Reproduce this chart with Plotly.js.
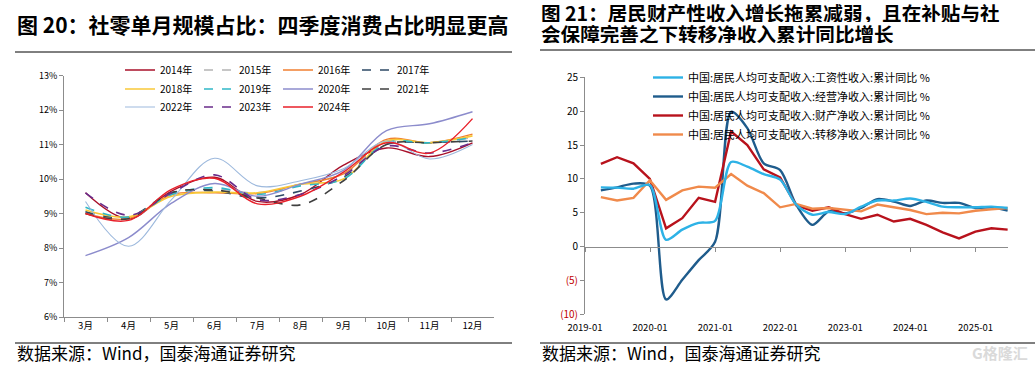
<!DOCTYPE html>
<html><head><meta charset="utf-8">
<script src="https://cdn.plot.ly/plotly-3.0.1.min.js"></script>
<style>html,body{margin:0;padding:0;background:#fff}#chart{width:1035px;height:365px}</style>
</head><body><div id="chart"></div>
<script>
// ---------- Left chart data: monthly share of annual retail sales (%) ----------
const months = ['3月','4月','5月','6月','7月','8月','9月','10月','11月','12月'];
const yearNames = ['2014年','2015年','2016年','2017年','2018年','2019年','2020年','2021年','2022年','2023年','2024年'];
const share2014 = [9.60, 8.85, 9.65, 10.05, 9.35, 9.55, 10.40, 10.90, 10.65, 11.05];
const share2015 = [9.05, 8.85, 9.55, 9.70, 9.60, 9.85, 10.15, 11.10, 11.05, 11.20];
const share2016 = [9.00, 8.85, 9.55, 9.60, 9.58, 9.85, 10.15, 11.15, 11.05, 11.30];
const share2017 = [9.05, 8.90, 9.60, 9.65, 9.45, 9.65, 10.05, 11.00, 11.05, 11.10];
const share2018 = [9.10, 8.90, 9.50, 9.62, 9.60, 9.85, 10.00, 11.10, 11.05, 11.25];
const share2019 = [9.18, 8.90, 9.55, 9.75, 9.55, 9.80, 10.00, 11.05, 11.05, 11.20];
const share2020 = [7.78, 8.30, 9.30, 9.87, 9.50, 9.85, 10.25, 11.40, 11.60, 11.95];
const share2021 = [9.00, 8.85, 9.60, 9.68, 9.45, 9.25, 9.95, 11.00, 11.05, 11.10];
const share2022 = [9.35, 8.05, 9.40, 10.60, 9.80, 9.95, 10.30, 11.10, 10.58, 11.00];
const share2023 = [9.60, 8.95, 9.60, 10.12, 9.40, 9.55, 10.10, 10.95, 10.75, 11.05];
const share2024 = [9.00, 8.80, 9.70, 10.02, 9.28, 9.50, 10.20, 11.05, 10.75, 11.75];
const leftYTicks = [6, 7, 8, 9, 10, 11, 12, 13];
const leftYTickText = ['6%', '7%', '8%', '9%', '10%', '11%', '12%', '13%'];

// ---------- Right chart data: per-capita disposable income, cumulative YoY (%) ----------
const quarters = ['2019-03-31','2019-06-30','2019-09-30','2019-12-31',
  '2020-03-31','2020-06-30','2020-09-30','2020-12-31',
  '2021-03-31','2021-06-30','2021-09-30','2021-12-31',
  '2022-03-31','2022-06-30','2022-09-30','2022-12-31',
  '2023-03-31','2023-06-30','2023-09-30','2023-12-31',
  '2024-03-31','2024-06-30','2024-09-30','2024-12-31',
  '2025-03-31','2025-06-30'];
const wage     = [8.75, 8.7, 8.55, 9.1, 1.0, 2.5, 3.5, 3.8, 12.5, 11.8, 10.7, 9.9, 6.2, 4.7, 5.1, 4.8, 5.9, 6.8, 6.8, 7.1, 6.6, 5.9, 5.8, 5.8, 5.9, 5.7];
const business = [8.3, 8.75, 9.3, 9.0, -7.8, -4.9, -2.0, 0.7, 19.9, 17.5, 12.3, 11.3, 6.2, 3.2, 5.2, 4.9, 5.7, 7.0, 6.65, 6.0, 6.8, 6.45, 6.45, 5.7, 5.8, 5.3];
const property = [12.2, 13.2, 12.3, 10.0, 2.7, 4.2, 7.2, 6.6, 17.0, 15.0, 11.4, 10.2, 6.1, 5.3, 5.8, 4.8, 4.1, 4.7, 3.7, 4.1, 3.2, 2.1, 1.2, 2.2, 2.7, 2.5];
const transfer = [7.3, 6.8, 7.2, 9.8, 6.9, 8.3, 8.85, 8.7, 10.7, 9.0, 7.9, 5.8, 6.3, 5.6, 5.7, 5.5, 5.2, 6.2, 5.8, 5.4, 4.8, 5.0, 4.9, 5.3, 5.5, 5.7];
const rightNames = ['中国:居民人均可支配收入:工资性收入:累计同比 %',
  '中国:居民人均可支配收入:经营净收入:累计同比 %',
  '中国:居民人均可支配收入:财产净收入:累计同比 %',
  '中国:居民人均可支配收入:转移净收入:累计同比 %'];
const rightYTicks = [-10, -5, 0, 5, 10, 15, 20, 25];
const rightYTickText = ['(10)', '(5)', '0', '5', '10', '15', '20', '25'];

// ---------- build ----------
const W = 1035, H = 365;
const px = v => v / W;
const py = v => 1 - v / H;
const FONT = 'Noto Sans CJK SC, Noto Sans, sans-serif';

const leftSeries = [share2014, share2015, share2016, share2017, share2018, share2019, share2020, share2021, share2022, share2023, share2024];
const leftStyle = [
  {c:'#A8102A', d:'solid', w:1.4},
  {c:'#B4B4B4', d:'dash',  w:1.6},
  {c:'#F07F30', d:'solid', w:1.4},
  {c:'#2E4A66', d:'dash',  w:1.6},
  {c:'#F8C838', d:'solid', w:1.6},
  {c:'#30B8C8', d:'dash',  w:1.6},
  {c:'#8C8CCC', d:'solid', w:1.4},
  {c:'#404040', d:'dash',  w:1.6},
  {c:'#9DB9DD', d:'solid', w:1.1},
  {c:'#6A2C8A', d:'dash',  w:1.6},
  {c:'#E8202A', d:'solid', w:1.4}
];
const legendIds = ['legend','legend','legend','legend','legend2','legend2','legend2','legend2','legend3','legend3','legend3'];

const traces = [];
leftSeries.forEach((s, i) => {
  traces.push({
    type:'scatter', mode:'lines', x: months, y: s, name: yearNames[i],
    xaxis:'x', yaxis:'y', legend: legendIds[i],
    line:{color: leftStyle[i].c, dash: leftStyle[i].d, width: leftStyle[i].w, shape:'spline', smoothing:1},
    hoverinfo:'skip'
  });
});
const rightSeries = [wage, business, property, transfer];
const rightStyle = [
  {c:'#2DB2E6', shape:'spline'},
  {c:'#1F5C8C', shape:'spline'},
  {c:'#B8121C', shape:'linear'},
  {c:'#F08A4B', shape:'linear'}
];
rightSeries.forEach((s, i) => {
  traces.push({
    type:'scatter', mode:'lines', x: quarters, y: s, name: rightNames[i],
    xaxis: i === 0 ? 'x3' : 'x2', yaxis:'y2', legend:'legend4',
    line:{color: rightStyle[i].c, width:2.4, shape: rightStyle[i].shape, smoothing:0.8},
    hoverinfo:'skip'
  });
});

const axisGray = '#8C8C8C';
const xRangeR = ['2019-01-01','2025-07-02'];
const legendCommon = {orientation:'h', xanchor:'left', yanchor:'middle', bgcolor:'rgba(0,0,0,0)',
  font:{family:FONT, size:10, color:'#000'}, entrywidth:34, entrywidthmode:'pixels', itemwidth:30, tracegroupgap:0};

const layout = {
  width:W, height:H, autosize:false, margin:{l:0,r:0,t:0,b:0},
  paper_bgcolor:'#fff', plot_bgcolor:'#fff', showlegend:true,
  font:{family:FONT, size:9, color:'#000'},
  xaxis:{domain:[px(64), px(494)], anchor:'y', type:'category', range:[-0.5, 9.5],
    tickson:'boundaries', ticks:'outside', ticklen:4, tickcolor:axisGray, showline:true, linecolor:axisGray, linewidth:1,
    showgrid:false, zeroline:false, tickfont:{family:FONT, size:9.5}, fixedrange:true},
  yaxis:{domain:[py(317), py(75.5)], anchor:'x', range:[6, 13], tickmode:'array', tickvals:leftYTicks, ticktext:leftYTickText,
    ticks:'outside', ticklen:4, tickcolor:axisGray, showline:true, linecolor:axisGray, linewidth:1,
    showgrid:false, zeroline:false, tickfont:{family:FONT, size:9}, fixedrange:true},
  xaxis2:{domain:[px(585), px(1008)], anchor:'y2', type:'date', range:xRangeR, tick0:'2019-01-01', dtick:'M12',
    tickformat:'%Y-%m', ticks:'', showline:false, showgrid:false, zeroline:false, tickfont:{family:FONT, size:9.5},
    ticklabelstandoff:6, fixedrange:true},
  xaxis3:{overlaying:'x2', anchor:'free', position:py(246.7), type:'date', range:xRangeR, tick0:'2019-01-01', dtick:'M12',
    ticks:'outside', ticklen:4, tickcolor:axisGray, showline:true, linecolor:axisGray, linewidth:1.2,
    showticklabels:false, showgrid:false, zeroline:false, fixedrange:true},
  yaxis2:{domain:[py(314.3), py(77.3)], anchor:'x2', range:[-10, 25], tickmode:'array', tickvals:rightYTicks,
    ticktext: rightYTickText.map((t, i) => rightYTicks[i] < 0 ? '<span style="color:#C00000">' + t + '</span>' : t),
    ticks:'outside', ticklen:4, tickcolor:axisGray, showline:true, linecolor:axisGray, linewidth:1,
    showgrid:false, zeroline:false, tickfont:{family:FONT, size:10}, fixedrange:true},
  legend: Object.assign({}, legendCommon, {x:px(120), y:py(70)}),
  legend2: Object.assign({}, legendCommon, {x:px(120), y:py(89)}),
  legend3: Object.assign({}, legendCommon, {x:px(120), y:py(107)}),
  legend4: {orientation:'v', xanchor:'left', yanchor:'top', x:px(648), y:py(63), bgcolor:'rgba(0,0,0,0)',
    font:{family:FONT, size:11, color:'#000'}, itemwidth:30, tracegroupgap:0},
  shapes:[
    {type:'line', xref:'paper', yref:'paper', x0:px(15), x1:px(512), y0:py(52), y1:py(52), line:{color:'#000', width:1}},
    {type:'line', xref:'paper', yref:'paper', x0:px(540), x1:px(1035), y0:py(50), y1:py(50), line:{color:'#000', width:1}},
    {type:'line', xref:'paper', yref:'paper', x0:px(15), x1:px(512), y0:py(343), y1:py(343), line:{color:'#000', width:1}},
    {type:'line', xref:'paper', yref:'paper', x0:px(540), x1:px(1035), y0:py(343), y1:py(343), line:{color:'#000', width:1}}
  ],
  annotations:[
    {xref:'paper', yref:'paper', x:px(15), y:py(24), xanchor:'left', yanchor:'middle', showarrow:false,
      text:'<b>图 20：社零单月规模占比：四季度消费占比明显更高</b>', font:{family:FONT, size:21, color:'#000'}},
    {xref:'paper', yref:'paper', x:px(540), y:py(13), xanchor:'left', yanchor:'middle', showarrow:false, height:19, valign:'middle', borderpad:0,
      text:'<b>图 21：居民财产性收入增长拖累减弱，且在补贴与社</b>', font:{family:FONT, size:19.6, color:'#000'}},
    {xref:'paper', yref:'paper', x:px(540), y:py(33.5), xanchor:'left', yanchor:'middle', showarrow:false, height:19, valign:'middle', borderpad:0,
      text:'<b>会保障完善之下转移净收入累计同比增长</b>', font:{family:FONT, size:19.6, color:'#000'}},
    {xref:'paper', yref:'paper', x:px(15), y:py(352), xanchor:'left', yanchor:'middle', showarrow:false,
      text:'数据来源：Wind，国泰海通证券研究', font:{family:FONT, size:17, color:'#000'}},
    {xref:'paper', yref:'paper', x:px(540), y:py(352), xanchor:'left', yanchor:'middle', showarrow:false,
      text:'数据来源：Wind，国泰海通证券研究', font:{family:FONT, size:17, color:'#000'}},
    {xref:'paper', yref:'paper', x:px(1030), y:py(352), xanchor:'right', yanchor:'middle', showarrow:false,
      text:'<b>G格隆汇</b>', font:{family:FONT, size:15, color:'#DADADA'}}
  ]
};

Plotly.newPlot('chart', traces, layout, {displayModeBar:false, staticPlot:true});
</script>
</body></html>
